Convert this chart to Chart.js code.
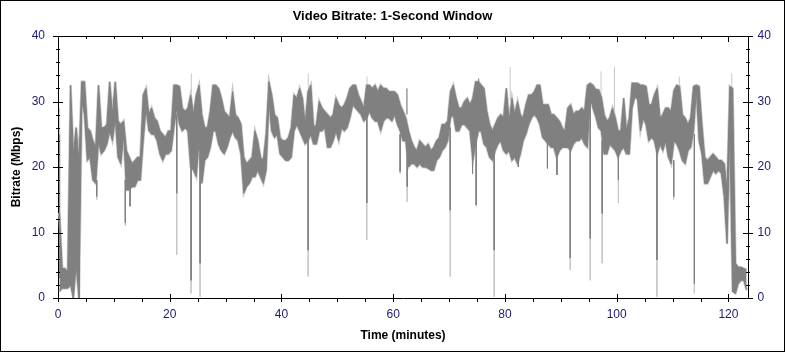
<!DOCTYPE html>
<html>
<head>
<meta charset="utf-8">
<script src="https://cdn.jsdelivr.net/npm/chart.js@4.4.1/dist/chart.umd.min.js"></script>
<style>
  html, body { margin: 0; padding: 0; background: #fff; }
  canvas { display: block; background: #fff; }
</style>
</head>
<body>
<canvas id="chart" width="785" height="353"></canvas>
<script>
// top and bottom of the 1-second band, one pair per half minute (5 minutes a row)
const bandHigh = [
  13, 4.5, 4.5, 4, 32.5, 22, 26, 21, 33, 33,
  26, 25.5, 24, 23, 32.5, 26, 26, 26.5, 33, 28,
  33, 27, 26.5, 27, 22.5, 21.5, 20.5, 21, 21.5, 21.5,
  31, 32, 28, 29, 27.5, 27, 25.5, 25, 24.5, 25.5,
  25.5, 32.5, 32.5, 32.3, 29, 28.5, 29, 31, 28, 31,
  32.5, 28, 26, 26, 28.5, 32.5, 32.5, 32, 30.5, 28.5,
  28, 27.5, 31.5, 28, 27.5, 26.5, 21.5, 20.5, 21, 21.5,
  25.5, 24, 21.5, 21, 25, 33, 31, 28, 27.5, 24.5,
  24, 24, 24.5, 26, 31, 30.5, 32, 30.5, 26.5, 31.5,
  32.5, 26, 26.5, 30, 29, 28.5, 28, 27.5, 28, 30.5,
  29.5, 29, 29.5, 30.5, 32, 32.5, 32.5, 31, 30, 29,
  32.5, 32.5, 32, 32.5, 31.5, 32.5, 32, 32, 31.5, 31.5,
  31.5, 31, 29.5, 28.5, 27.5, 25.5, 24, 23, 22.5, 24,
  23.5, 23, 23.5, 22.5, 23, 24, 24.5, 26.5, 26.5, 27,
  31.5, 32.5, 30.5, 29, 29, 30, 30.5, 29.5, 30.5, 33,
  33, 32.5, 32, 28.5, 26.5, 25.5, 26.5, 27.5, 28, 27.5,
  32, 27, 30.5, 28, 30, 28, 27.5, 29.5, 31, 31,
  31.5, 32.5, 32.5, 29.5, 29.5, 29.5, 28, 28, 27.5, 27,
  26, 25.5, 29, 29.5, 28, 28.5, 28.5, 29, 28.5, 32.5,
  32.8, 32.5, 31.8, 31.8, 30.7, 28, 27, 27.5, 29, 27.5,
  25.5, 25.5, 30.5, 25.5, 27.5, 32.8, 32.8, 32.8, 32.5, 32.5,
  32.3, 29.5, 29.5, 31, 32, 27.5, 28, 29, 29, 28.5,
  31.7, 32.5, 32.3, 28, 27.5, 26.5, 27.5, 32.3, 32.5, 32.3,
  26.5, 21.5, 21, 21.5, 22, 21.5, 21, 21, 20.5, 16.5,
  32.3, 32, 5.3, 4.7, 4.7, 4.5, 4.3];
const bandLow = [
  1, 1.5, 1.5, 1.5, 2, 0, 5, 0, 30, 28,
  21, 21.5, 18, 17.5, 24, 22, 22.5, 23.5, 25.5, 24,
  27.5, 21.5, 20.5, 25, 16.5, 16.5, 17, 17, 18, 18,
  24, 29, 25.6, 25, 25, 24, 22, 21, 22, 22,
  22.5, 26, 29, 26.5, 25.5, 26, 25.5, 20, 19.5, 18.5,
  24, 17.5, 21, 21.5, 23, 25.5, 25.5, 23.5, 22.5, 22,
  23, 24.5, 25.5, 24.5, 24, 22, 16, 17, 17.5, 18.5,
  18.5, 19.5, 18.5, 17.5, 19.5, 30, 25.5, 24.5, 25, 22,
  21.5, 21, 21, 21.5, 25.5, 26.5, 25.5, 24.5, 23.5, 24,
  25, 23.5, 23.5, 25.5, 25.5, 26, 23, 23, 24, 25.5,
  24, 26, 25.5, 26, 27.5, 29.5, 29, 28.5, 28, 27,
  27.5, 28.5, 27.5, 27, 27, 25.5, 27, 27.5, 27.5, 27,
  28, 26.5, 25.5, 24, 24, 20, 20.5, 20.5, 20, 20.5,
  20, 20, 19.8, 19.5, 19.5, 21, 21.5, 22.5, 23, 24,
  27.5, 28, 25.5, 25.5, 26.5, 26.5, 26, 25.5, 21, 23.5,
  25.5, 25.5, 23.5, 23, 21.5, 21, 22.5, 23.5, 24, 22.5,
  22, 22.5, 21, 21.5, 20.5, 22, 24, 25, 26.5, 27.5,
  28, 27.5, 26.5, 24.5, 24, 23.5, 23, 23, 21.5, 22.5,
  23, 23, 23, 22.5, 23.5, 24, 24, 24.5, 23.5, 23,
  30.7, 29, 27.7, 26, 25.5, 22, 22, 23.5, 23, 22.5,
  21.5, 22.5, 23, 22, 22, 29, 30.7, 30.3, 25.5, 27.5,
  26.5, 24, 24.5, 24, 22, 23.5, 22.5, 24, 21.5, 20.5,
  24, 23.5, 22.5, 21, 20.5, 22.5, 23, 25.5, 31.7, 24,
  22, 17.5, 17.5, 18.5, 19.5, 19, 19.5, 19, 15.5, 8.3,
  25.6, 1, 0.7, 2.2, 2.7, 2.7, 1.2];

// single-second spikes: time (min), band level, end of dark part, end of light part
const spikeTimes = [0.3, 2.75, 3.83, 6.93, 12.05, 12.9, 21.25, 23.82, 23.85, 25.43,
  44.77, 44.8, 55.27, 55.3, 61.24, 62.45, 62.5, 70.2, 74.2, 74.85,
  75.3, 78.07, 80.94, 82.4, 87.6, 89.3, 91.68, 95.26, 97.2, 97.4,
  99.6, 100.3, 107.2, 110.2, 111.2, 113.9, 120.6];
const spikeFrom = [3, 10, 10, 18, 18, 17, 28, 24, 30, 22,
  24, 30, 28, 32, 25, 28, 26, 26, 23, 24,
  32, 24, 30, 22, 24, 23, 23, 30.7, 30, 24,
  28, 22, 23, 21, 32, 25, 32];
const spikeDark = [25, 0, 0, 15.5, 11.5, 14, 16, 2.7, 30, 5.3,
  7.3, 30, 14.5, 32, 19.3, 32, 17, 13.4, 19, 14.2,
  33.5, 7.3, 30, 20, 19.8, 18.8, 6.1, 9.1, 30, 12.9,
  28, 18, 5.8, 15.5, 32, 2.2, 32];
const spikeLight = [29, 0, 0, 15, 11, 14, 6.6, 0.7, 34.3, 0.2,
  3.3, 34.3, 8.9, 33.8, 19, 32, 14.7, 3.3, 19, 14,
  33.5, 0.2, 35.3, 20, 19.8, 18.8, 4.3, 2.7, 34.6, 5.3,
  35.3, 14.5, 0.2, 15, 33.8, 0.7, 34.3];

const yTicks = [0, 10, 20, 30, 40];
const xMax = 123.5;

const gray = '#808080';
const lightGray = '#c8c8c8';
const labelColor = '#1a1a6e';

// each half-minute value sits in the middle of its bin
const highPts = bandHigh.map((v, i) => ({ x: i / 2 + 0.25, y: v }));
const lowPts = bandLow.map((v, i) => ({ x: i / 2 + 0.25, y: v }));

function spikePts(ends) {
  let pts = [];
  spikeTimes.forEach((t, i) => {
    pts.push({ x: t, y: spikeFrom[i] });
    pts.push({ x: t, y: ends[i] });
    pts.push({ x: t, y: null });
  });
  return pts;
}

// tick marks, top axis line and the outer frame
const frame = {
  id: 'frame',
  afterDraw(chart) {
    const { ctx, chartArea: a, scales } = chart;
    ctx.save();
    ctx.strokeStyle = '#000';
    ctx.lineWidth = 1;
    ctx.beginPath();
    ctx.moveTo(a.left, Math.round(a.top) + 0.5);
    ctx.lineTo(a.right, Math.round(a.top) + 0.5);
    for (let m = 0; m <= xMax; m += 5) {
      const x = Math.round(scales.x.getPixelForValue(m)) + 0.5;
      const big = m % 20 === 0;
      ctx.moveTo(x, a.bottom - (big ? 4 : 0));
      ctx.lineTo(x, a.bottom + 4);
      ctx.moveTo(x, a.top);
      ctx.lineTo(x, a.top + (big ? 6 : 3));
    }
    for (let v = 0; v <= 40; v += 2) {
      const y = Math.round(scales.y.getPixelForValue(v)) + 0.5;
      const len = v % 10 === 0 ? 5 : 2;
      ctx.moveTo(a.left - len, y);
      ctx.lineTo(a.left + len, y);
      ctx.moveTo(a.right - len, y);
      ctx.lineTo(a.right + len, y);
    }
    ctx.stroke();
    ctx.strokeRect(0.5, 0.5, chart.width - 1, 351);
    ctx.restore();
  }
};

const tickFont = { family: '"Liberation Sans", Arial, sans-serif', size: 12 };
const boldFont = { family: '"Liberation Sans", Arial, sans-serif', size: 12, weight: 'bold' };

new Chart(document.getElementById('chart'), {
  type: 'line',
  data: {
    datasets: [
      { label: 'peak', data: spikePts(spikeLight), borderColor: lightGray, borderWidth: 1,
        pointRadius: 0, spanGaps: false, order: 4 },
      // light halo round the band, drawn underneath it
      { label: 'highEdge', data: highPts, borderColor: lightGray, borderWidth: 2.5,
        pointRadius: 0, fill: false, order: 3 },
      { label: 'lowEdge', data: lowPts, borderColor: lightGray, borderWidth: 2.5,
        pointRadius: 0, fill: false, order: 3 },
      { label: 'high', data: highPts, borderColor: gray, borderWidth: 1, pointRadius: 0,
        fill: false, order: 2 },
      { label: 'low', data: lowPts, borderColor: gray, backgroundColor: gray, borderWidth: 1,
        pointRadius: 0, fill: '-1', order: 2 },
      { label: 'dips', data: spikePts(spikeDark), borderColor: gray, borderWidth: 1,
        pointRadius: 0, spanGaps: false, order: 1 }
    ]
  },
  options: {
    responsive: false,
    animation: false,
    devicePixelRatio: 1,
    layout: { padding: 0 },
    plugins: {
      legend: { display: false },
      tooltip: { enabled: false },
      title: {
        display: true,
        text: 'Video Bitrate: 1-Second Window',
        color: '#000',
        font: { family: '"Liberation Sans", Arial, sans-serif', size: 13, weight: 'bold' },
        padding: { top: 9, bottom: 11.4 }
      }
    },
    scales: {
      x: {
        type: 'linear',
        position: 'bottom',
        min: 0,
        max: xMax,
        grid: { display: false, drawTicks: false },
        border: { display: true, color: '#000', width: 1 },
        ticks: { stepSize: 20, includeBounds: false, color: labelColor, font: tickFont,
          padding: 9, maxRotation: 0 },
        title: { display: true, text: 'Time (minutes)', color: '#000', font: boldFont,
          padding: { top: 0, bottom: 9.8 } },
        afterFit(s) { s.height = 55; }
      },
      y: {
        position: 'left',
        min: 0,
        max: 40,
        grid: { display: false, drawTicks: false },
        border: { display: true, color: '#000', width: 1 },
        afterBuildTicks(s) { s.ticks = yTicks.map(v => ({ value: v })); },
        ticks: { color: labelColor, font: tickFont, padding: 13 },
        title: { display: true, text: 'Bitrate (Mbps)', color: '#000', font: boldFont,
          padding: { top: 9.8, bottom: 0 } },
        afterFit(s) { s.width = 58; }
      },
      y2: {
        position: 'right',
        min: 0,
        max: 40,
        grid: { display: false, drawTicks: false },
        border: { display: true, color: '#000', width: 1 },
        afterBuildTicks(s) { s.ticks = yTicks.map(v => ({ value: v })); },
        ticks: { color: labelColor, font: tickFont, padding: 9.5 },
        afterFit(s) { s.width = 37; }
      }
    }
  },
  plugins: [frame]
});
</script>
</body>
</html>
